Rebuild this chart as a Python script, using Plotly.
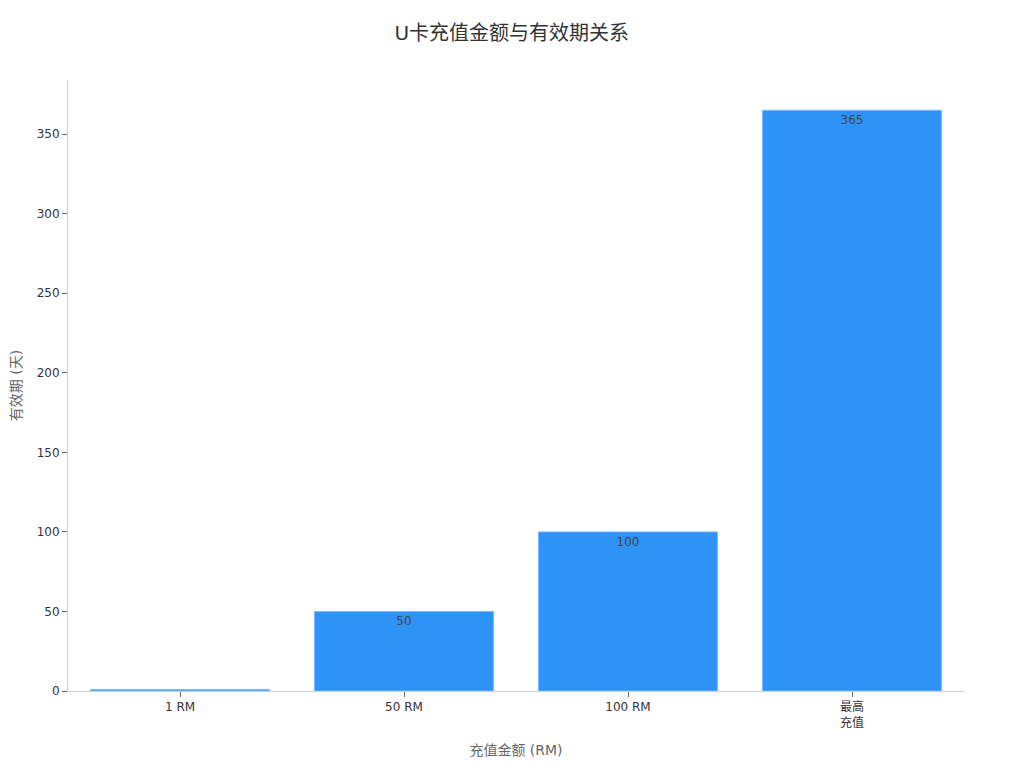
import plotly.graph_objects as go

# 充值金额 -> 有效期 (天)
amounts = ["1 RM", "50 RM", "100 RM", "最高<br>充值"]
days = [1, 50, 100, 365]
labels = ["", "50", "100", "365"]

bar = go.Bar(
    x=amounts,
    y=days,
    text=labels,
    textposition="inside",
    insidetextanchor="end",
    textangle=0,
    textfont=dict(color="#444444", size=12),
    marker=dict(color="#2E93F7", line=dict(color="#7FBDF9", width=1)),
    hoverinfo="x+y",
)

fig = go.Figure(data=[bar])
# page body adds ~8px offset, so margins are shifted to compensate
fig.update_layout(
    width=1024,
    height=768,
    title=dict(
        text="U卡充值金额与有效期关系",
        x=0.492,
        xanchor="center",
        y=0.976,
        font=dict(size=20, color="#333333"),
    ),
    font=dict(family="DejaVu Sans, Noto Sans CJK SC, sans-serif", size=12, color="#333333"),
    plot_bgcolor="white",
    paper_bgcolor="white",
    margin=dict(l=60, r=68, t=72, b=85),
    bargap=0.2,
    showlegend=False,
    xaxis=dict(
        title=dict(text="充值金额 (RM)", font=dict(size=14, color="#666666"), standoff=16),
        showline=True,
        linecolor="#D0D0D0",
        ticks="outside",
        ticklen=5,
        tickcolor="#666666",
        showgrid=False,
        automargin=False,
    ),
    yaxis=dict(
        title=dict(text="有效期 (天)", font=dict(size=14, color="#666666"), standoff=16),
        showline=True,
        linecolor="#D0D0D0",
        ticks="outside",
        ticklen=5,
        tickcolor="#666666",
        showgrid=False,
        zeroline=False,
        range=[0, 384],
        dtick=50,
        automargin=False,
    ),
)

fig.write_html("out.html")
